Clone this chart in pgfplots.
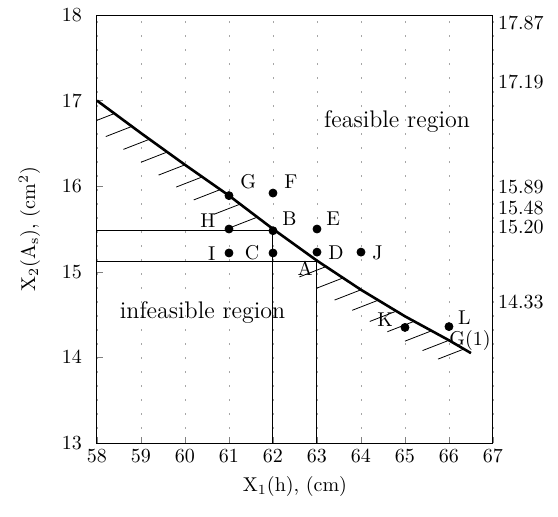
\documentclass[border=0pt]{standalone}
\usepackage{pgfplots}
\pgfplotsset{compat=1.18}

% constraint curve X2(X1)
\pgfplotstableread{
x y
58.0 17.00
59.0 16.62
60.0 16.25
61.0 15.89
62.0 15.50
63.0 15.13
64.0 14.79
65.0 14.48
66.0 14.20
66.5 14.05
}\curve

% design points
\pgfplotstableread{
x y
61 15.89
62 15.92
61 15.50
62 15.48
63 15.50
61 15.22
62 15.22
63 15.23
64 15.23
65 14.35
66 14.36
}\points

% hatch strokes below the curve
\pgfplotstableread{
x y
58.40 16.85
58.80 16.70
59.20 16.55
59.60 16.40
60.00 16.25
60.40 16.11
60.80 15.96
61.25 15.79
61.65 15.64
63.20 15.06
63.60 14.93
64.00 14.79
64.40 14.67
64.80 14.54
65.20 14.42
65.60 14.31
66.00 14.20
66.35 14.10
}\hatch

\begin{document}
\begin{tikzpicture}
\useasboundingbox (-48.5pt,-36.5pt) rectangle (230.5pt,221.5pt);
\begin{axis}[
    scale only axis,
    width=198pt, height=214pt,
    xmin=58, xmax=67, ymin=13, ymax=18,
    xtick={58,...,67}, ytick={13,...,18},
    xtick pos=left, ytick pos=left,
    tick align=inside,
    major tick length=3pt,
    xmajorgrids,
    grid style={gray!70, line width=0.3pt, dash pattern=on 1pt off 6pt},
    axis line style={line width=0.5pt},
    yticklabel style={xshift=-4pt},
    xlabel={X$_1$(h), (cm)},
    ylabel={X$_2$(A$_\mathrm{s}$), (cm$^2$)},
    ylabel style={yshift=4pt},
]
\addplot[black, line width=1.3pt] table[x=x, y=y] {\curve};
\addplot[black, line width=0.4pt, quiver={u=-0.6, v=-0.12}] table[x=x, y=y] {\hatch};

\addplot[black, line width=0.5pt] coordinates {(58,15.48) (62,15.48) (62,13)};
\addplot[black, line width=0.5pt] coordinates {(58,15.115) (63,15.115) (63,13)};

\addplot[only marks, mark=*, mark size=2pt, black] table[x=x, y=y] {\points};

\node[anchor=west] at (axis cs:61.1,16.05) {G};
\node[anchor=west] at (axis cs:62.1,16.05) {F};
\node[anchor=east] at (axis cs:60.85,15.60) {H};
\node[anchor=west] at (axis cs:62.05,15.62) {B};
\node[anchor=west] at (axis cs:63.05,15.62) {E};
\node[anchor=east] at (axis cs:60.85,15.21) {I};
\node[anchor=east] at (axis cs:61.85,15.22) {C};
\node[anchor=west] at (axis cs:63.10,15.22) {D};
\node[anchor=west] at (axis cs:64.10,15.22) {J};
\node at (axis cs:62.73,15.04) {A};
\node at (axis cs:64.55,14.44) {K};
\node[anchor=west] at (axis cs:66.05,14.46) {L};
\node[anchor=west, inner sep=0pt] at (axis cs:66.0,14.20) {G(1)};
\node[font=\large] at (axis cs:64.82,16.75) {feasible region};
\node[font=\large] at (axis cs:60.40,14.52) {infeasible region};
\end{axis}
\begin{axis}[
    scale only axis,
    width=198pt, height=214pt,
    xmin=58, xmax=67, ymin=13, ymax=18,
    axis x line=none,
    axis y line*=right,
    axis line style={draw=none},
    major tick length=0pt,
    ytick={17.91,17.22,15.99,15.75,15.52,14.65},
    yticklabels={17.87,17.19,15.89,15.48,15.20,14.33},
    yticklabel style={xshift=-1pt},
]
\end{axis}
\end{tikzpicture}
\end{document}
